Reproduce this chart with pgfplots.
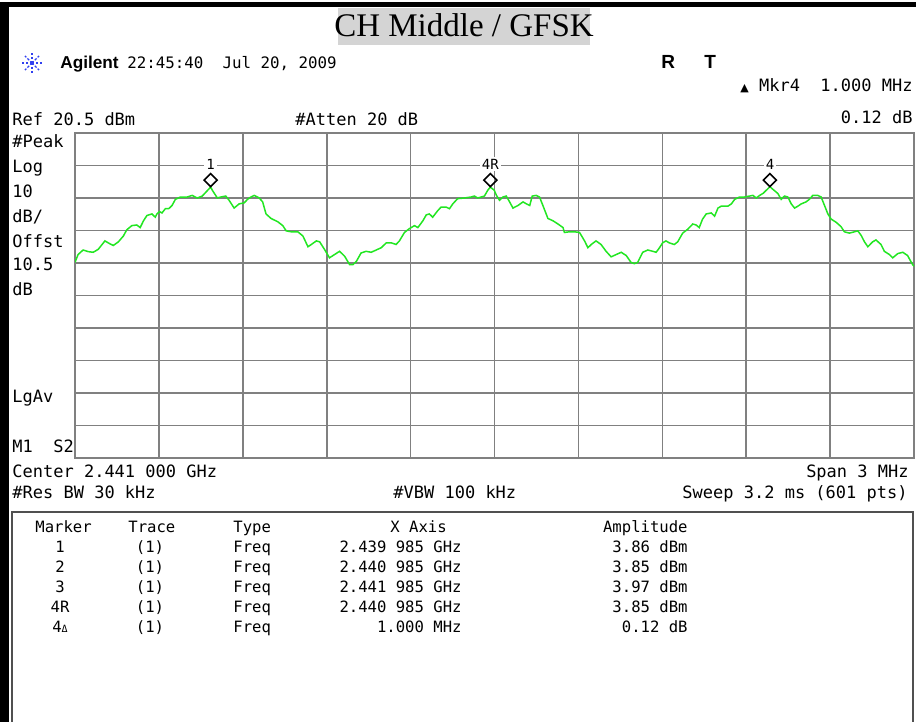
\documentclass[border=0pt]{standalone}
\usepackage{fontspec}
\setmainfont{Liberation Serif}
\newfontfamily\monof{DejaVu Sans Mono}
\newfontfamily\sansf{Liberation Sans}
\newfontfamily\symf{DejaVu Sans}
\usepackage{pgfplots}
\pgfplotsset{compat=1.18}
\definecolor{gridgray}{HTML}{808080}
\definecolor{tracegreen}{HTML}{22E622}
\definecolor{titlegray}{HTML}{D4D4D4}
\definecolor{agblue}{HTML}{3040F0}
\definecolor{boxgray}{HTML}{505050}

% trace in MHz offset from centre 2.441 GHz, dBm
\begin{document}
\begin{tikzpicture}
% frame and annotations in screen pixels (1 px = 0.5 pt)
\begin{scope}[x=0.5pt,y=-0.5pt]
\fill[black] (0,2) rectangle (916,7);
\fill[black] (0,2) rectangle (9,722);
\fill[titlegray] (338,8) rectangle (590,45);
\node[anchor=base, inner sep=0, font=\fontsize{16.5}{18}\selectfont] at (464,37) {CH Middle / GFSK};
% Agilent logo star
\foreach \a in {0,45,...,315}
  \draw[agblue, line width=0.7pt, dash pattern=on 1.2pt off 0.8pt] (32,63) -- ++(\a:10);
\node[anchor=base west, inner sep=0, font=\sansf\bfseries\fontsize{8.6}{10}\selectfont] at (60,69) {Agilent};
\node[anchor=base west, inner sep=0, font=\monof\fontsize{7.9}{10}\selectfont] at (127,69) {22:45:40~ Jul 20, 2009};
\node[anchor=base west, inner sep=0, font=\sansf\bfseries\fontsize{9.5}{10}\selectfont] at (661,69) {R};
\node[anchor=base west, inner sep=0, font=\sansf\bfseries\fontsize{9.5}{10}\selectfont] at (704,69) {T};
\node[anchor=base east, inner sep=0, font=\monof\fontsize{8.5}{10}\selectfont] at (913,92) {{\symf\fontsize{5.5}{6}\selectfont ▲} Mkr4~ 1.000 MHz};
\node[anchor=base east, inner sep=0, font=\monof\fontsize{8.5}{10}\selectfont] at (913,124) {0.12 dB};
\node[anchor=base west, inner sep=0, font=\monof\fontsize{8.5}{10}\selectfont] at (12,126) {Ref 20.5 dBm};
\node[anchor=base west, inner sep=0, font=\monof\fontsize{8.5}{10}\selectfont] at (295,126) {\#Atten 20 dB};
% left status column
\begin{scope}[every node/.style={anchor=base west, inner sep=0, font=\monof\fontsize{8.5}{10}\selectfont}]
\node at (12,148) {\#Peak};
\node at (12,173) {Log};
\node at (12,198) {10};
\node at (12,222) {dB/};
\node at (12,247) {Offst};
\node at (12,270) {10.5};
\node at (12,295) {dB};
\node at (12,402) {LgAv};
\node at (12,452) {M1~ S2};
\node at (12,477) {Center 2.441 000 GHz};
\node at (12,498) {\#Res BW 30 kHz};
\node at (393,498) {\#VBW 100 kHz};
\node[anchor=base east] at (909,477) {Span 3 MHz};
\node[anchor=base east] at (908,498) {Sweep 3.2 ms (601 pts)};
\end{scope}
% marker table
\draw[boxgray, line width=1pt] (12,722) -- (12,512) -- (913,512) -- (913,722);
\begin{scope}[every node/.style={inner sep=0, font=\monof\fontsize{7.8}{9}\selectfont}]
\node[anchor=base west] at (35,532) {Marker};
\node[anchor=base west] at (128,532) {Trace};
\node[anchor=base west] at (233,532) {Type};
\node[anchor=base west] at (390,532) {X Axis};
\node[anchor=base east] at (688,532) {Amplitude};
\foreach \m/\x/\amp [count=\i] in {1/2.439 985 GHz/3.86 dBm, 2/2.440 985 GHz/3.85 dBm, 3/2.441 985 GHz/3.97 dBm, 4R/2.440 985 GHz/3.85 dBm, 4{\fontsize{5}{5}\selectfont Δ}/1.000 MHz/0.12 dB} {
  \node[anchor=base] at (60,532+20*\i) {\m};
  \node[anchor=base] at (150,532+20*\i) {(1)};
  \node[anchor=base west] at (233,532+20*\i) {Freq};
  \node[anchor=base east] at (462,532+20*\i) {\x};
  \node[anchor=base east] at (688,532+20*\i) {\amp};
}
\end{scope}
\end{scope}

\begin{axis}[
  at={(37.5pt,-66.5pt)}, anchor=north west,
  scale only axis, width=419.5pt, height=162.5pt,
  xmin=-1.5, xmax=1.5, ymin=-79.5, ymax=20.5,
  xtick={-1.2,-0.9,-0.6,-0.3,0,0.3,0.6,0.9,1.2},
  ytick={-69.5,-59.5,-49.5,-39.5,-29.5,-19.5,-9.5,0.5,10.5},
  xticklabels={}, yticklabels={},
  major tick length=0pt,
  grid=major,
  grid style={gridgray, line width=0.8pt},
  axis line style={gridgray, line width=1.1pt},
]
\addplot[tracegreen, line width=0.75pt] coordinates {
(-1.500,-19.3) (-1.489,-16.9) (-1.471,-15.5) (-1.453,-16.0) (-1.435,-16.2)
(-1.417,-15.3) (-1.393,-12.7) (-1.375,-13.6) (-1.363,-14.1) (-1.345,-13.0)
(-1.327,-11.2) (-1.315,-9.3) (-1.297,-8.0) (-1.279,-7.8) (-1.267,-8.6)
(-1.255,-6.5) (-1.243,-4.9) (-1.225,-4.4) (-1.213,-5.4) (-1.207,-4.4)
(-1.198,-3.7) (-1.189,-4.1) (-1.177,-2.8) (-1.165,-2.8) (-1.153,-1.8)
(-1.141,0.1) (-1.123,0.8) (-1.099,0.8) (-1.081,1.3) (-1.063,0.5)
(-1.045,1.1) (-1.033,2.2) (-1.015,3.86) (-1.009,2.9) (-0.991,0.5)
(-0.979,0.8) (-0.961,1.1) (-0.949,-0.2) (-0.931,-2.6) (-0.913,-1.3)
(-0.895,-1.0) (-0.883,0.1) (-0.871,0.8) (-0.859,1.3) (-0.841,0.5)
(-0.829,-0.7) (-0.817,-4.4) (-0.799,-5.8) (-0.775,-6.8) (-0.757,-8.0)
(-0.745,-9.6) (-0.727,-9.9) (-0.703,-9.9) (-0.685,-11.2) (-0.667,-14.5)
(-0.655,-13.8) (-0.637,-12.7) (-0.625,-13.0) (-0.608,-15.3) (-0.590,-17.9)
(-0.572,-16.9) (-0.554,-15.9) (-0.536,-17.4) (-0.518,-20.0) (-0.506,-20.0)
(-0.494,-19.0) (-0.477,-16.4) (-0.459,-15.9) (-0.441,-16.2) (-0.423,-15.5)
(-0.405,-14.8) (-0.387,-13.3) (-0.369,-13.3) (-0.352,-13.8) (-0.340,-12.7)
(-0.322,-10.1) (-0.304,-8.9) (-0.286,-8.0) (-0.274,-8.6) (-0.256,-6.5)
(-0.244,-4.7) (-0.233,-4.4) (-0.221,-5.4) (-0.203,-3.4) (-0.191,-2.3)
(-0.173,-2.3) (-0.161,-2.8) (-0.149,-1.3) (-0.132,0.3) (-0.108,0.5)
(-0.084,0.8) (-0.072,1.1) (-0.060,0.5) (-0.048,0.8) (-0.036,1.1)
(-0.024,2.9) (-0.015,3.85) (-0.001,2.9) (0.007,1.3) (0.018,-0.2)
(0.030,0.8) (0.042,1.1) (0.054,-0.7) (0.066,-2.6) (0.084,-1.8)
(0.102,-0.7) (0.114,-1.3) (0.126,-1.8) (0.135,1.1) (0.149,1.3)
(0.161,0.8) (0.173,-1.8) (0.191,-5.8) (0.209,-6.5) (0.227,-7.5)
(0.245,-8.6) (0.250,-10.1) (0.268,-9.9) (0.286,-9.9) (0.304,-10.1)
(0.322,-12.7) (0.334,-14.8) (0.346,-13.8) (0.363,-12.7) (0.381,-13.8)
(0.399,-15.9) (0.417,-17.6) (0.435,-16.9) (0.453,-16.2) (0.471,-17.2)
(0.488,-19.3) (0.500,-19.7) (0.512,-19.3) (0.530,-16.2) (0.548,-15.5)
(0.566,-15.9) (0.578,-16.2) (0.590,-14.8) (0.601,-13.3) (0.613,-12.7)
(0.625,-13.3) (0.643,-13.8) (0.655,-13.0) (0.673,-10.3) (0.691,-9.1)
(0.709,-7.5) (0.721,-7.8) (0.732,-8.6) (0.744,-6.0) (0.757,-4.4)
(0.775,-4.1) (0.787,-5.1) (0.799,-2.6) (0.811,-2.0) (0.835,-2.0)
(0.847,-1.3) (0.859,0.1) (0.876,0.8) (0.894,0.8) (0.912,1.1)
(0.924,1.3) (0.936,0.5) (0.948,1.3) (0.960,1.9) (0.972,2.9)
(0.985,3.97) (0.995,3.2) (1.013,1.9) (1.025,0.1) (1.037,1.1)
(1.049,0.8) (1.061,-1.3) (1.073,-2.6) (1.085,-2.0) (1.097,-1.3)
(1.114,-0.7) (1.126,0.1) (1.138,1.3) (1.156,1.3) (1.168,0.8)
(1.180,-1.8) (1.192,-4.4) (1.204,-6.0) (1.222,-7.0) (1.239,-8.3)
(1.251,-9.9) (1.269,-10.3) (1.287,-9.9) (1.299,-9.6) (1.311,-11.0)
(1.323,-13.0) (1.335,-14.5) (1.352,-13.0) (1.364,-12.4) (1.382,-13.8)
(1.394,-15.9) (1.412,-16.9) (1.424,-17.9) (1.442,-16.6) (1.460,-16.2)
(1.477,-17.2) (1.495,-20.0) (1.500,-20.5)
};
% markers 1, 4R, 4 (drawn above the trace peaks as on the analyser)
\addplot[only marks, mark=square, mark size=2.3pt, black, line width=0.8pt,
  mark options={fill=white, rotate=45},
  point meta=explicit symbolic, nodes near coords,
  nodes near coords style={anchor=center, yshift=8pt, fill=white, inner sep=1pt,
    text=black, font=\monof\fontsize{7}{8}\selectfont}]
  coordinates {(-1.015,6.0) [1] (-0.015,6.0) [4R] (0.985,6.0) [4]};
\end{axis}
\pgfresetboundingbox
\path[use as bounding box] (0,0) rectangle (458pt,-361pt);
\end{tikzpicture}
\end{document}
